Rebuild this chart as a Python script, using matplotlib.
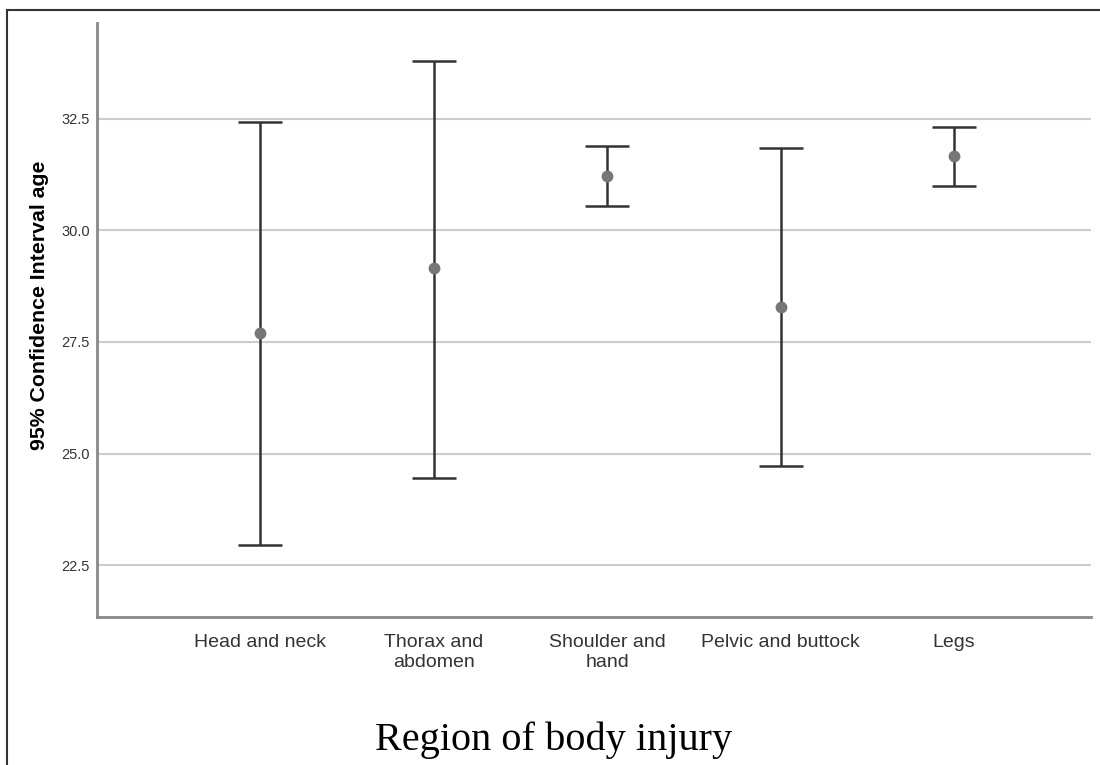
import matplotlib
matplotlib.use("Agg")
import matplotlib.pyplot as plt
from matplotlib.lines import Line2D

plt.rcParams['font.family'] = ['Liberation Sans', 'DejaVu Sans']

# 数据
regions = ["Head and neck", "Thorax and\nabdomen", "Shoulder and\nhand", "Pelvic and buttock", "Legs"]
mean_age = [27.70, 29.15, 31.22, 28.28, 31.65]
ci_lower = [22.96, 24.46, 30.54, 24.71, 30.98]
ci_upper = [32.43, 33.79, 31.88, 31.85, 32.32]

fig = plt.figure(figsize=(11, 7.65), dpi=100)
ax = fig.add_axes([0.0882, 0.1935, 0.9038, 0.7765])

x = list(range(len(regions)))
err_low = [m - lo for m, lo in zip(mean_age, ci_lower)]
err_high = [hi - m for m, hi in zip(mean_age, ci_upper)]

ax.errorbar(x, mean_age, yerr=[err_low, err_high], fmt='o', color='#777777',
            markersize=7.5, ecolor='#333333', elinewidth=1.8, capsize=16,
            capthick=1.8, zorder=3)

ax.set_xlim(-0.94, 4.79)
ax.set_ylim(21.34, 34.64)
ax.set_yticks([22.5, 25.0, 27.5, 30.0, 32.5])
ax.set_yticklabels(["22.5", "25.0", "27.5", "30.0", "32.5"], fontsize=10.5, color='#333333')
ax.set_xticks(x)
ax.set_xticklabels(regions, fontsize=14, color='#333333', va='top', linespacing=1.25)
ax.tick_params(axis='both', length=0)
ax.tick_params(axis='x', pad=12)
ax.tick_params(axis='y', pad=5)

ax.grid(axis='y', color='#cccccc', linewidth=1.5, zorder=0)
ax.set_axisbelow(True)
for s in ['top', 'right']:
    ax.spines[s].set_visible(False)
for s in ['left', 'bottom']:
    ax.spines[s].set_color('#888888')
    ax.spines[s].set_linewidth(2)

ax.set_ylabel("95% Confidence Interval age", fontsize=15.3, fontweight='bold')
ax.yaxis.set_label_coords(-0.048, 0.524)

fig.text(0.503, 0.033, "Region of body injury", ha='center', va='center',
         fontsize=29, family=['Liberation Serif', 'DejaVu Serif'])

# 外框
fig.add_artist(Line2D([7 / 1100, 1], [1 - 10 / 765, 1 - 10 / 765], color='#333333', linewidth=1.5,
                      transform=fig.transFigure))
fig.add_artist(Line2D([7 / 1100, 7 / 1100], [0, 1 - 10 / 765], color='#333333', linewidth=1.5,
                      transform=fig.transFigure))

plt.savefig("out.png")
